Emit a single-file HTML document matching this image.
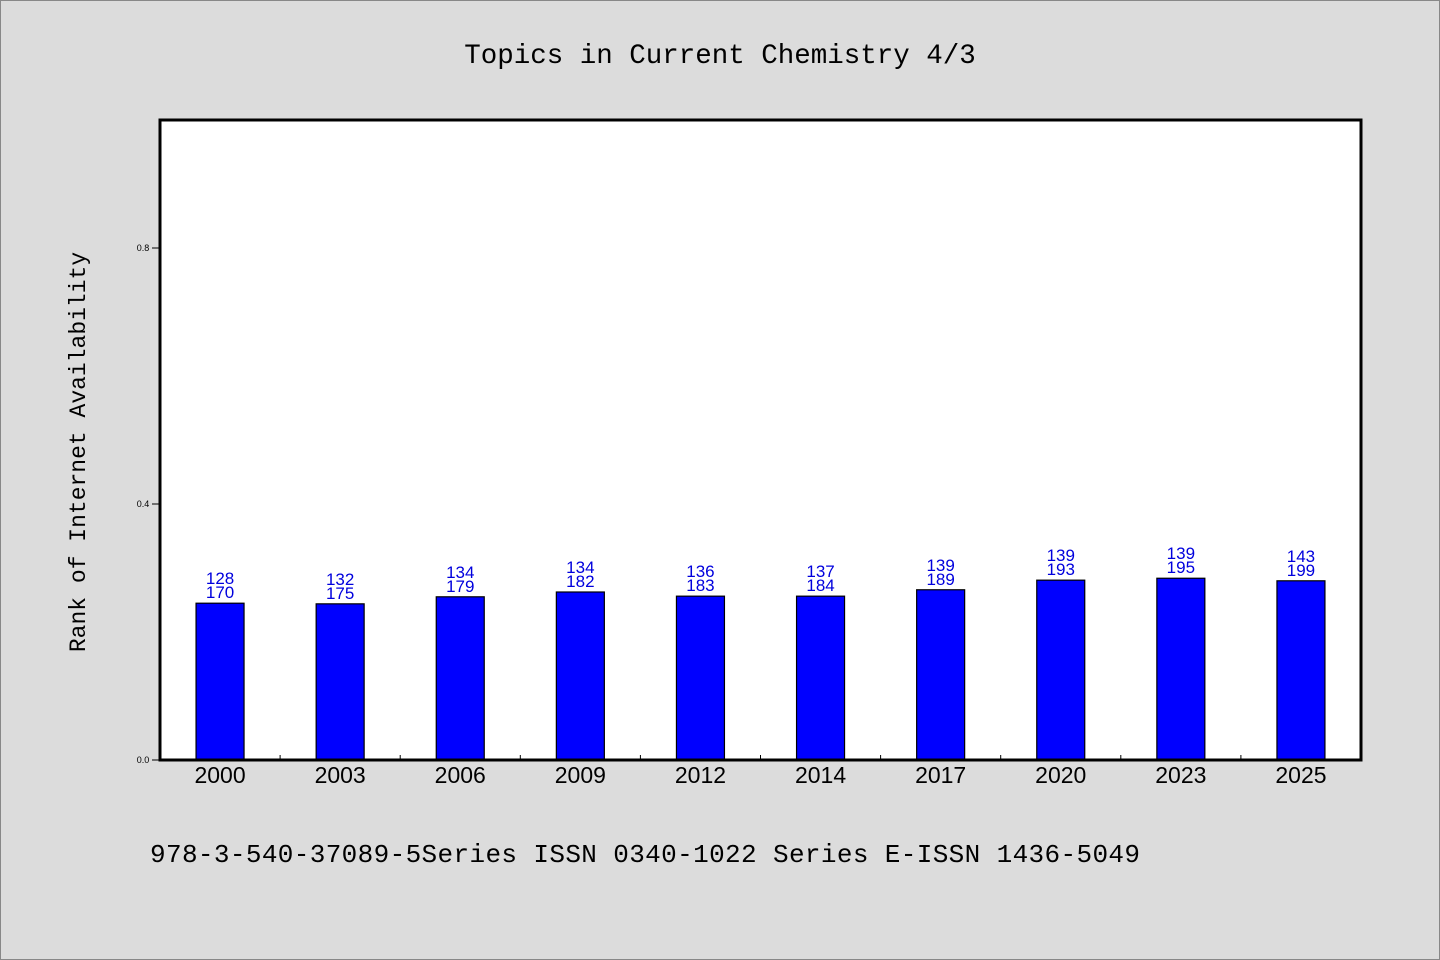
<!DOCTYPE html>
<html><head><meta charset="utf-8"><style>
body{margin:0;background:#dcdcdc;}
svg{display:block;font-family:"Liberation Sans",sans-serif;}
.mono{font-family:"Liberation Mono",monospace;}
</style></head><body>
<svg id="chart" width="1440" height="960">
<rect x="0.5" y="0.5" width="1439" height="959" fill="#dcdcdc" stroke="#888"/>
<text class="mono" x="720" y="63" text-anchor="middle" font-size="27.5" fill="#000">Topics in Current Chemistry 4/3</text>
<rect x="160" y="120" width="1201" height="640" fill="#fff"/>
<g id="bars"></g>
<rect x="160" y="120" width="1201" height="640" fill="none" stroke="#000" stroke-width="3"/>
<text class="mono" transform="translate(85,452) rotate(-90)" text-anchor="middle" font-size="23" fill="#000">Rank of Internet Availability</text>
<text class="mono" x="150" y="862" font-size="26" fill="#000" textLength="990">978-3-540-37089-5Series ISSN 0340-1022 Series E-ISSN 1436-5049</text>
</svg>
<script>
const categories=["2000","2003","2006","2009","2012","2014","2017","2020","2023","2025"];
const values=[0.245,0.244,0.255,0.2625,0.256,0.256,0.266,0.281,0.284,0.28];
const labelTop=["128","132","134","134","136","137","139","139","139","143"];
const labelBottom=["170","175","179","182","183","184","189","193","195","199"];
const yTicks=[0.0,0.4,0.8];
const NS="http://www.w3.org/2000/svg";
const x0=160,x1=1361,y0=760,y1=120,yMax=1.0;
const slot=(x1-x0)/categories.length;
function xc(i){return x0+slot*(i+0.5);}
function yv(v){return y0-(v/yMax)*(y0-y1);}
const g=document.getElementById('bars');
function mk(t,a){const e=document.createElementNS(NS,t);for(const k in a)e.setAttribute(k,a[k]);g.appendChild(e);return e;}
categories.forEach((c,i)=>{
  const bw=48,top=yv(values[i]);
  const r=mk('rect',{x:xc(i)-bw/2,y:top,width:bw,height:y0-top,fill:'#0000ff',stroke:'#000','stroke-width':1.2});
  
  
  const t1=mk('text',{x:xc(i),y:top-19,'text-anchor':'middle','font-size':17,fill:'#0000dd'});
  t1.textContent=labelTop[i];
  
  
  const t2=mk('text',{x:xc(i),y:top-5,'text-anchor':'middle','font-size':17,fill:'#0000dd'});
  t2.textContent=labelBottom[i];
  
  
  const xl=mk('text',{x:xc(i),y:783,'text-anchor':'middle','font-size':23,fill:'#000'});
  xl.textContent=c;
  
  
  if(i>0){
    const tk=mk('line',{x1:x0+slot*i,x2:x0+slot*i,y1:y0,y2:y0-5,stroke:'#000'});
    
    
  }
});
yTicks.forEach(v=>{
  const y=yv(v);
  const l=mk('line',{x1:152,x2:160,y1:y,y2:y,stroke:'#000'});
  
  
  const t=mk('text',{x:143,y:y+3,'text-anchor':'middle','font-size':9,fill:'#000'});
  t.textContent=v.toFixed(1);
  
  
});
</script>
</body></html>
